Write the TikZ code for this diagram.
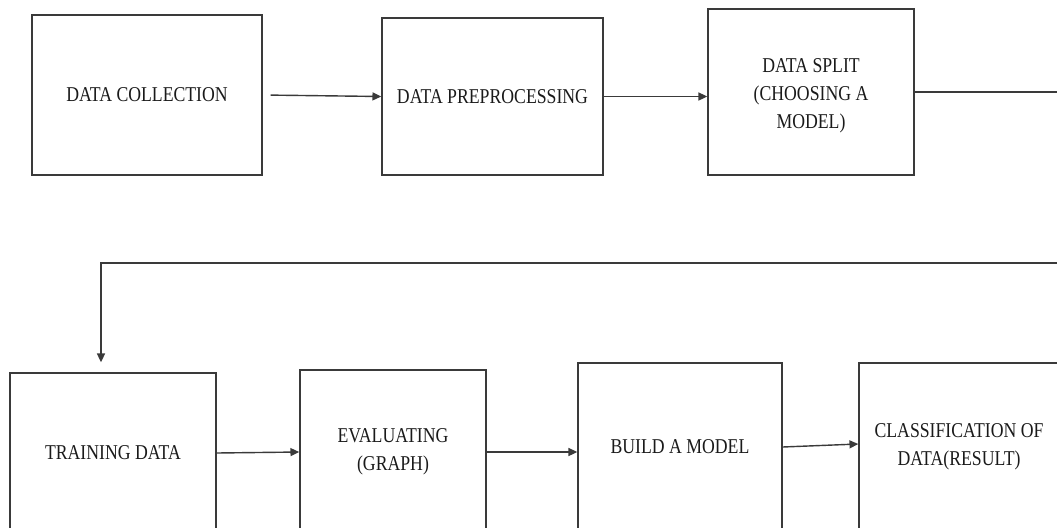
\documentclass[tikz,border=0pt]{standalone}
\usepackage{fontspec}
\setmainfont{Liberation Serif}[FakeStretch=0.84]
\usepackage{tikz}
\usetikzlibrary{arrows.meta,positioning,calc}
\definecolor{LineGray}{HTML}{3A3A3A}
\definecolor{InkBlack}{HTML}{1A1A1A}

\begin{document}
\begin{tikzpicture}[x=0.025cm,y=-0.025cm,
  blk/.style={draw=LineGray,line width=1pt,inner sep=0pt,align=center,
              text=InkBlack,font=\fontsize{15}{20}\selectfont},
  flow/.style={draw=LineGray,line width=1pt,-{Triangle[length=2.2mm,width=2mm]}}]
\useasboundingbox (0,0) rectangle (1057,527);
\clip (0,0) rectangle (1057,527);
% top row
\node[blk,minimum width=5.75cm,minimum height=4cm] (col) at (147,95) {DATA COLLECTION};
\node[blk,minimum width=5.525cm,minimum height=3.925cm] (pre) at (492.5,96.5)
{DATA PREPROCESSING};
\node[blk,minimum width=5.15cm,minimum height=4.15cm] (split) at (811,92)
{\rule{0pt}{1.05em}DATA SPLIT\\(CHOOSING A\\MODEL)};
% bottom row
\node[blk,minimum width=5.15cm,minimum height=4cm] (train) at (113,453) {TRAINING DATA};
\node[blk,minimum width=4.65cm,minimum height=4.1cm] (eval) at (393,452) {EVALUATING\\(GRAPH)};
\node[blk,minimum width=5.1cm,minimum height=4.2cm] (build) at (680,447) {BUILD A MODEL};
\node[blk,minimum width=5cm,minimum height=4.2cm] (cls) at (959,447)
{CLASSIFICATION OF\\DATA(RESULT)};
% connectors
\coordinate (bend) at (1075,263);
\coordinate (drop) at (101,263);
\draw[flow,shorten <=0.2cm] (col.east) -- (pre.west);
\draw[flow] (pre.east) -- (pre.east -| split.west);
\draw[flow,shorten >=0.25cm] (split.east) -| (bend) -- (drop) -- (drop |- train.north);
\draw[flow] (train.east) -- (eval.west);
\draw[flow] (eval.east) -- (eval.east -| build.west);
\draw[flow] (build.east) -- ([yshift=0.075cm]cls.west);
\end{tikzpicture}
\end{document}
